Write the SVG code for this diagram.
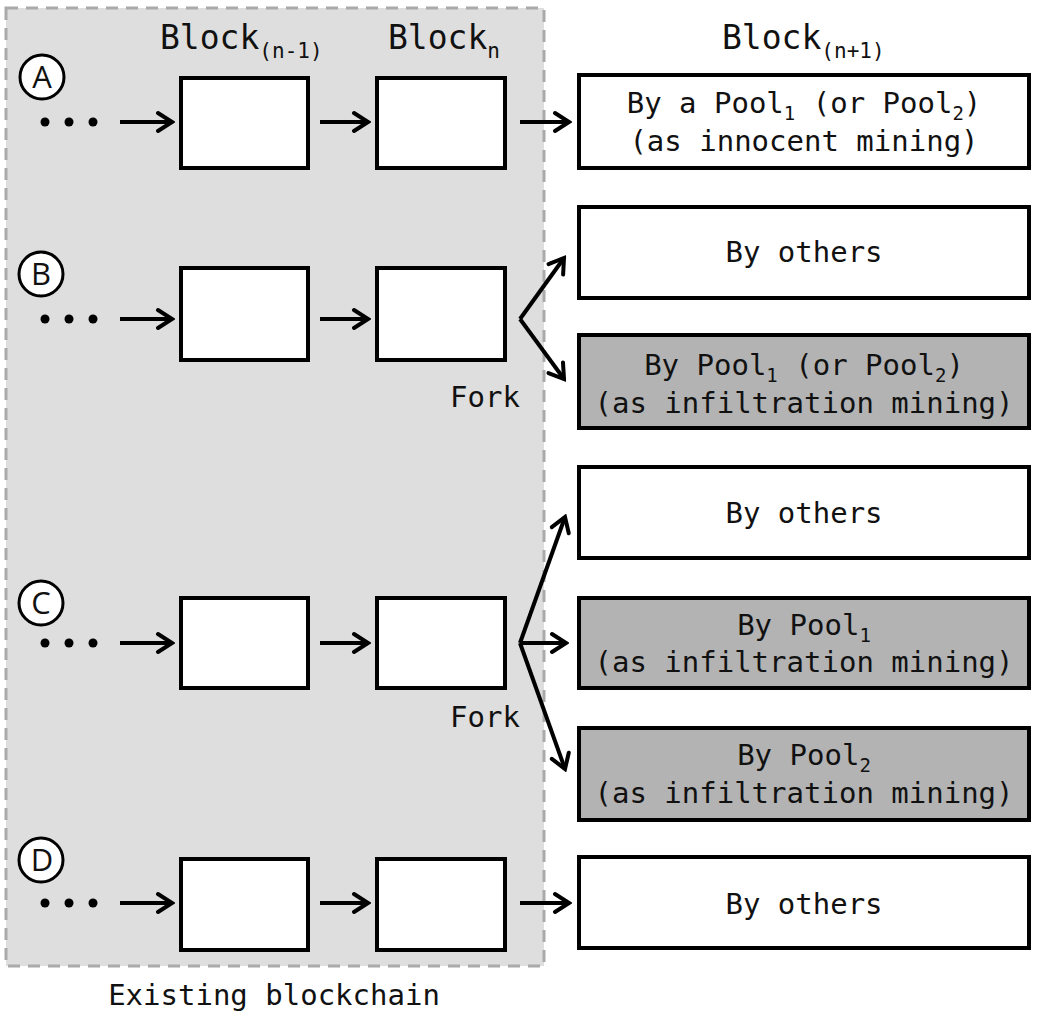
<svg xmlns="http://www.w3.org/2000/svg" width="1046" height="1014" viewBox="0 0 1046 1014">
<style>
.blk{fill:#fff;stroke:#000;stroke-width:4}
.gblk{fill:#b3b3b3;stroke:#000;stroke-width:4}
.t{font-family:"DejaVu Sans Mono","Liberation Mono",monospace;font-size:29px;fill:#111}
.h{font-family:"DejaVu Sans Mono","Liberation Mono",monospace;font-size:33px;fill:#111}
.sub{font-size:19px}
.hsub{font-size:21px}
.c{text-anchor:middle}
.circ{fill:#fff;stroke:#000;stroke-width:3}
.lt{font-family:"Open Sans","Noto Sans",sans-serif;font-size:31px;fill:#111;text-anchor:middle}
.conn{stroke:#000;stroke-width:4;fill:none;marker-end:url(#ah)}
.dot{fill:#000}
</style>
<defs>
<marker id="ah" markerUnits="userSpaceOnUse" viewBox="0 0 20 24" refX="17" refY="12" markerWidth="20" markerHeight="24" orient="auto">
<path d="M3,3 L17,12 L3,21" fill="none" stroke="#000" stroke-width="4" stroke-linecap="round"/>
</marker>
</defs>
<rect id="existing" x="6" y="8" width="538" height="958" fill="#dedede" stroke="#aaa" stroke-width="3" stroke-dasharray="12,8"/>
<g id="headers">
<text class="h" x="160" y="49">Block<tspan class="hsub" dy="9">(n-1)</tspan></text>
<text class="h" x="388" y="49">Block<tspan class="hsub" dy="9">n</tspan></text>
<text class="h" x="722" y="49">Block<tspan class="hsub" dy="9">(n+1)</tspan></text>
</g>
<g id="label-A"><circle class="circ" cx="42" cy="77" r="22"/><text class="lt" x="42" y="88">A</text></g>
<g id="label-B"><circle class="circ" cx="41" cy="274" r="22"/><text class="lt" x="41" y="285">B</text></g>
<g id="label-C"><circle class="circ" cx="41" cy="603" r="22"/><text class="lt" x="41" y="614">C</text></g>
<g id="label-D"><circle class="circ" cx="41" cy="860" r="22"/><text class="lt" x="42" y="871">D</text></g>
<g id="dots">
<circle class="dot" cx="45" cy="122" r="4.5"/><circle class="dot" cx="69" cy="122" r="4.5"/><circle class="dot" cx="93" cy="122" r="4.5"/>
<circle class="dot" cx="45" cy="319" r="4.5"/><circle class="dot" cx="69" cy="319" r="4.5"/><circle class="dot" cx="93" cy="319" r="4.5"/>
<circle class="dot" cx="45" cy="643" r="4.5"/><circle class="dot" cx="69" cy="643" r="4.5"/><circle class="dot" cx="93" cy="643" r="4.5"/>
<circle class="dot" cx="45" cy="903" r="4.5"/><circle class="dot" cx="69" cy="903" r="4.5"/><circle class="dot" cx="93" cy="903" r="4.5"/>
</g>
<g id="A-prev"><rect class="blk" x="181" y="78" width="127" height="90"/></g>
<g id="A-n"><rect class="blk" x="377" y="78" width="128" height="90"/></g>
<g id="B-prev"><rect class="blk" x="181" y="268" width="127" height="92"/></g>
<g id="B-n"><rect class="blk" x="377" y="268" width="128" height="92"/></g>
<g id="C-prev"><rect class="blk" x="181" y="598" width="127" height="90"/></g>
<g id="C-n"><rect class="blk" x="377" y="598" width="128" height="90"/></g>
<g id="D-prev"><rect class="blk" x="181" y="859" width="127" height="91"/></g>
<g id="D-n"><rect class="blk" x="377" y="859" width="128" height="91"/></g>
<g id="A-next"><rect class="blk" x="579" y="75" width="450" height="93"/>
<text class="t c" x="804" y="113">By a Pool<tspan class="sub" dy="7">1</tspan><tspan dy="-7"> (or Pool</tspan><tspan class="sub" dy="7">2</tspan><tspan dy="-7">)</tspan></text>
<text class="t c" x="804" y="151">(as innocent mining)</text></g>
<g id="B-others"><rect class="blk" x="579" y="207" width="450" height="91"/>
<text class="t c" x="804" y="262">By others</text></g>
<g id="B-pool"><rect class="gblk" x="579" y="335" width="450" height="93"/>
<text class="t c" x="804" y="375">By Pool<tspan class="sub" dy="7">1</tspan><tspan dy="-7"> (or Pool</tspan><tspan class="sub" dy="7">2</tspan><tspan dy="-7">)</tspan></text>
<text class="t c" x="804" y="413">(as infiltration mining)</text></g>
<g id="C-others"><rect class="blk" x="579" y="467" width="450" height="91"/>
<text class="t c" x="804" y="523">By others</text></g>
<g id="C-pool1"><rect class="gblk" x="579" y="598" width="450" height="90"/>
<text class="t c" x="804" y="635">By Pool<tspan class="sub" dy="7">1</tspan></text>
<text class="t c" x="804" y="672">(as infiltration mining)</text></g>
<g id="C-pool2"><rect class="gblk" x="579" y="728" width="450" height="92"/>
<text class="t c" x="804" y="765">By Pool<tspan class="sub" dy="7">2</tspan></text>
<text class="t c" x="804" y="803">(as infiltration mining)</text></g>
<g id="D-others"><rect class="blk" x="579" y="857" width="450" height="91"/>
<text class="t c" x="804" y="914">By others</text></g>
<g id="connectors">
<line class="conn" x1="120" y1="122" x2="172" y2="122"/>
<line class="conn" x1="320" y1="122" x2="368" y2="122"/>
<line class="conn" x1="520" y1="122" x2="569" y2="122"/>
<line class="conn" x1="120" y1="319" x2="172" y2="319"/>
<line class="conn" x1="320" y1="319" x2="368" y2="319"/>
<path class="conn" d="M520,319 L564,258"/>
<path class="conn" d="M520,319 L564,379"/>
<line class="conn" x1="120" y1="643" x2="172" y2="643"/>
<line class="conn" x1="320" y1="643" x2="368" y2="643"/>
<path class="conn" d="M520,643 L565,517"/>
<path class="conn" d="M520,643 L566,643"/>
<path class="conn" d="M520,643 L565,769"/>
<line class="conn" x1="120" y1="903" x2="172" y2="903"/>
<line class="conn" x1="320" y1="903" x2="368" y2="903"/>
<line class="conn" x1="520" y1="903" x2="569" y2="903"/>
</g>
<text class="t" x="450" y="407" font-size="28">Fork</text>
<text class="t" x="450" y="727" font-size="28">Fork</text>
<text class="t c" x="274" y="1005">Existing blockchain</text>
</svg>
